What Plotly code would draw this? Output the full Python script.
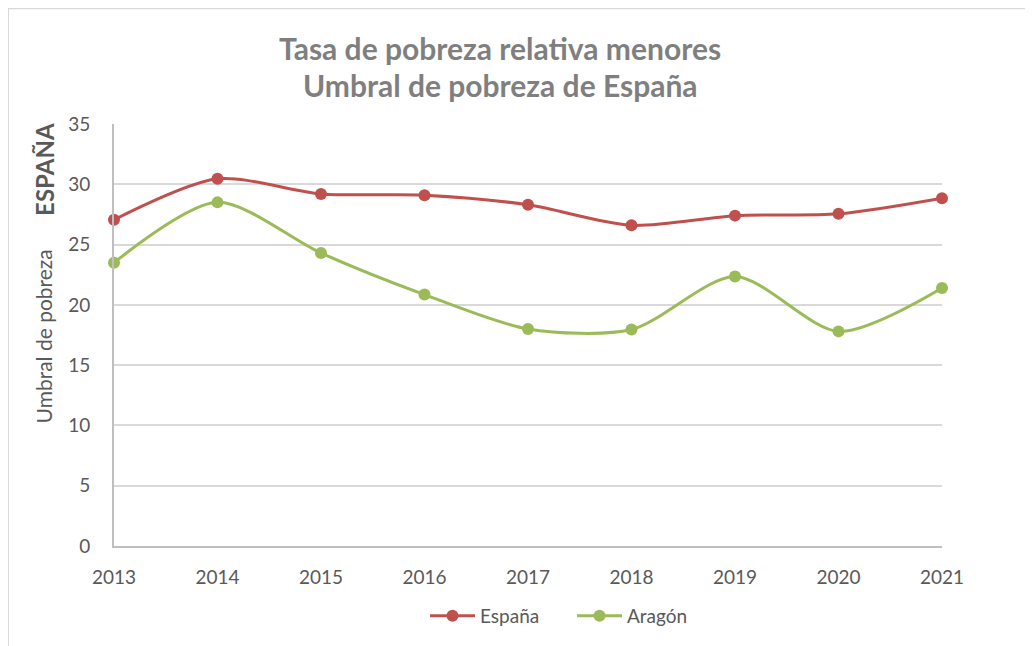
import plotly.graph_objects as go

years = [2013, 2014, 2015, 2016, 2017, 2018, 2019, 2020, 2021]
espana = [27.05, 30.45, 29.2, 29.1, 28.3, 26.6, 27.4, 27.55, 28.85]
aragon = [23.5, 28.5, 24.3, 20.85, 18.0, 17.95, 22.35, 17.8, 21.4]
y_ticks = [0, 5, 10, 15, 20, 25, 30, 35]

FONT = "Lato"
OFF = 8  # page body margin
W, H = 1033 - OFF, 646 - OFF
L, R, T, B = 114 - OFF, 942 - OFF, 124 - OFF, 547 - OFF

def px(x):
    """reference pixel x -> paper x"""
    return (x - OFF - L) / (R - L)

def py(y):
    """reference pixel y -> paper y"""
    return (B - (y - OFF)) / (B - T)

fig = go.Figure()
fig.add_trace(go.Scatter(
    x=years, y=espana, name="España", mode="lines+markers",
    line=dict(color="#c0504d", width=3, shape="spline", smoothing=0.8),
    marker=dict(color="#c0504d", size=12), cliponaxis=False))
fig.add_trace(go.Scatter(
    x=years, y=aragon, name="Aragón", mode="lines+markers",
    line=dict(color="#9bbb59", width=3, shape="spline", smoothing=0.8),
    marker=dict(color="#9bbb59", size=12), cliponaxis=False))

fig.update_layout(
    width=W, height=H,
    margin=dict(l=L, r=W - R, t=T, b=H - B, pad=0),
    paper_bgcolor="white", plot_bgcolor="white",
    font=dict(family=FONT, color="#595959", size=19),
    showlegend=True,
    legend=dict(orientation="h", x=px(572), xanchor="center",
                y=py(616), yanchor="middle",
                font=dict(size=19, color="#595959"),
                itemwidth=45,
                entrywidth=87, entrywidthmode="pixels"),
    xaxis=dict(range=[2013, 2021], tickmode="array", tickvals=years,
               ticktext=[str(y) for y in years], showgrid=False,
               showline=True, linecolor="#bfbfbf", linewidth=2,
               zeroline=False, ticks="", ticklabelstandoff=13,
               tickfont=dict(size=19, color="#595959")),
    yaxis=dict(range=[0, 35], tickmode="array", tickvals=y_ticks,
               showgrid=True, gridcolor="#d9d9d9", gridwidth=2,
               showline=True, linecolor="#bfbfbf", linewidth=2,
               zeroline=False, ticks="", ticklabelstandoff=18,
               tickfont=dict(size=19, color="#595959")),
)

annotations = [
    dict(text="<b>Tasa de pobreza relativa menores</b>", x=px(500), y=py(48),
         font=dict(size=30, color="#7f7f7f", family=FONT)),
    dict(text="<b>Umbral de pobreza de España</b>", x=px(500), y=py(85),
         font=dict(size=30, color="#7f7f7f", family=FONT)),
    dict(text="Umbral de pobreza", x=px(43), y=py(337), textangle=-90,
         font=dict(size=21, color="#595959", family=FONT)),
    dict(text="<b>ESPAÑA</b>", x=px(45), y=py(170), textangle=-90,
         font=dict(size=24, color="#595959", family=FONT)),
]
for a in annotations:
    a.update(xref="paper", yref="paper", xanchor="center", yanchor="middle", showarrow=False)
fig.update_layout(annotations=annotations)

# outer chart border (left and top)
fig.add_shape(type="line", xref="paper", yref="paper",
              x0=px(8), x1=px(8), y0=py(8), y1=py(660),
              line=dict(color="#d9d9d9", width=2))
fig.add_shape(type="line", xref="paper", yref="paper",
              x0=px(8), x1=px(1040), y0=py(8), y1=py(8),
              line=dict(color="#d9d9d9", width=2))

fig.write_html("out.html")
